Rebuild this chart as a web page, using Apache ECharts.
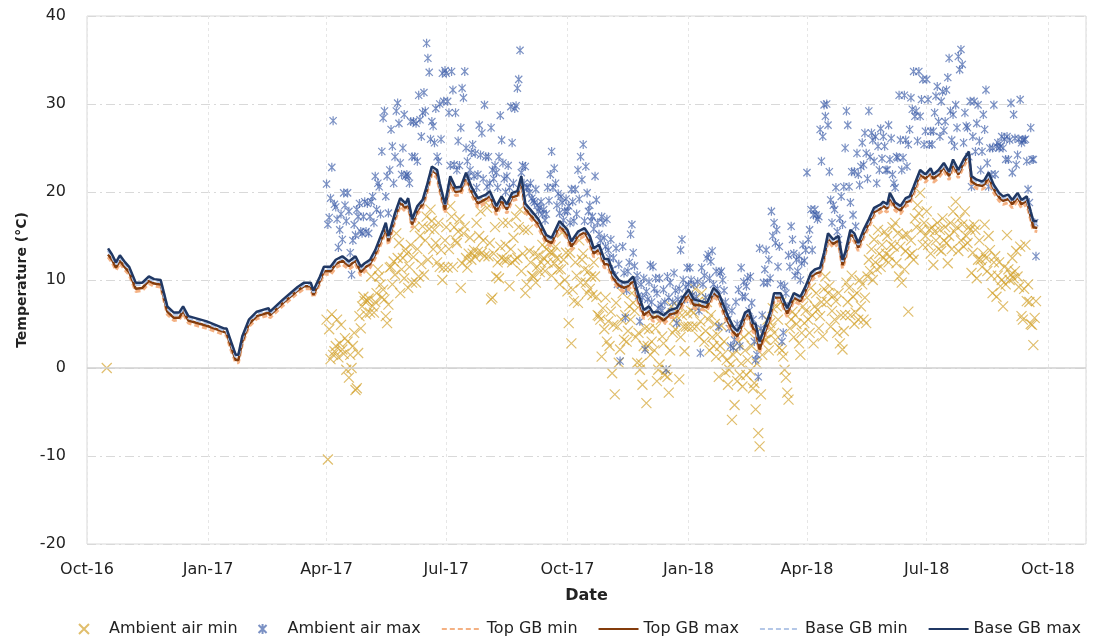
<!DOCTYPE html>
<html>
<head>
<meta charset="utf-8">
<script src="https://cdn.jsdelivr.net/npm/echarts@6/dist/echarts.min.js"></script>
<style>
html,body{margin:0;padding:0;background:#fff;}
#chart{width:1096px;height:641px;}
</style>
</head>
<body>
<div id="chart"></div>
<script>
// ---- DATA ----
// day offsets are counted from 2016-10-01
const seriesNames = ['Ambient air min', 'Ambient air max', 'Top GB min', 'Top GB max', 'Base GB min', 'Base GB max'];
const monthNames = ['Jan','Feb','Mar','Apr','May','Jun','Jul','Aug','Sep','Oct','Nov','Dec'];

// single early ambient reading
const earlyMinDays = [15];
const earlyMin = [0];

// daily ambient readings starting 2017-04-01 (day 182)
const airStartDay = 182;
const airMax = [
 20.9,16.3,17.1,19.3,22.8,28.1,18.6,18.3,16.9,13.7,15.7,17.5,14.6,19.9,18.5,16.7,19.9,17.8,13.1,10.6,14.5,16.3,15.1,18.0,17.2,18.7,15.5,15.3,17.2,18.9,
 15.5,18.7,15.3,17.2,18.9,19.5,16.5,21.8,18.0,21.0,20.6,17.5,24.6,28.4,29.2,19.5,21.8,17.6,22.5,27.1,25.2,21.0,24.0,29.2,30.1,27.8,23.3,22.0,25.0,28.8,21.8,
 22.0,21.8,21.0,28.0,24.0,28.0,24.0,27.8,23.5,31.0,28.2,26.3,29.0,31.3,29.2,36.9,35.2,33.6,26.0,28.0,27.5,25.6,29.5,24.0,23.5,30.0,26.0,33.5,30.3,33.8,
 33.5,30.3,29.0,23.0,33.7,31.6,23.1,29.0,22.5,25.8,23.0,27.3,31.8,30.7,33.7,25.0,23.5,21.8,22.5,24.5,25.4,21.8,24.4,20.5,22.0,27.6,24.2,26.7,21.5,29.9,24.0,
 20.6,24.0,21.0,27.3,22.5,21.5,23.0,22.2,20.5,24.0,28.7,25.9,23.3,21.5,20.0,21.8,23.0,20.5,29.7,25.6,21.0,29.5,29.8,31.8,32.8,36.1,22.2,23.0,21.0,22.9,20.5,
 20.5,19.9,21.0,19.3,19.0,18.8,20.3,18.5,17.8,18.2,18.9,17.5,18.0,16.8,17.5,20.5,19.0,22.0,24.6,20.5,22.7,21.0,18.5,19.8,17.6,19.5,18.8,16.8,17.8,19.2,
 17.8,18.4,16.5,20.3,18.9,16.7,20.3,17.5,22.5,19.2,24.0,21.4,25.4,16.7,22.9,19.9,17.8,18.5,16.7,17.2,15.8,21.8,19.1,16.5,15.2,14.5,17.2,16.5,14.8,13.8,16.9,
 13.4,12.5,14.6,11.2,12.5,10.5,13.6,9.5,11.8,0.8,9.5,13.8,10.8,5.7,8.8,11.0,12.0,15.2,16.3,13.1,11.6,9.8,10.5,8.2,5.3,9.5,8.0,10.2,2.1,8.7,
 7.8,9.8,11.7,7.5,11.5,9.0,10.2,8.5,6.8,10.2,7.2,6.5,8.9,7.5,-0.2,10.4,8.0,9.7,6.4,7.5,10.8,8.8,5.1,7.8,9.0,13.4,14.6,10.0,7.8,9.2,11.4,
 9.5,11.4,10.0,8.3,9.5,7.0,8.1,9.8,6.5,1.7,11.4,9.5,10.5,8.0,12.5,12.9,10.2,12.1,13.3,9.5,8.3,11.0,9.0,4.7,10.8,11.0,10.0,8.8,7.5,6.8,5.5,
 4.5,2.5,6.5,2.3,3.2,7.5,5.0,8.9,2.5,11.4,8.1,9.8,8.1,9.3,10.2,6.5,10.4,7.4,5.5,3.0,0.9,1.5,-1.0,13.6,4.5,6.0,9.7,11.2,
 13.4,9.7,12.3,10.2,17.8,15.0,16.5,14.2,15.7,11.5,13.8,9.5,3.0,4.0,9.3,8.5,7.0,12.8,11.5,16.1,14.6,13.0,10.5,12.3,11.0,12.7,10.0,11.9,14.0,12.2,13.4,
 22.2,14.6,15.7,18.0,13.4,17.4,18.0,17.4,16.9,17.2,27.1,23.5,26.3,29.9,28.6,30.0,27.6,22.3,19.1,16.5,18.5,18.0,20.5,15.5,14.6,17.0,19.5,16.3,20.6,25.0,
 29.2,27.6,20.6,18.8,22.3,17.4,22.3,16.1,24.4,22.0,20.8,22.9,25.6,23.1,26.7,24.4,21.5,29.2,24.0,26.7,25.9,23.5,26.3,21.0,25.2,22.5,27.2,23.8,26.3,25.2,22.5,
 22.5,27.6,23.7,26.1,22.0,21.0,20.5,24.0,23.9,31.0,25.9,22.5,23.9,31.0,25.9,22.9,25.4,27.1,30.7,29.4,33.7,28.6,29.2,25.8,33.7,28.6,30.5,32.8,25.4,26.9,
 32.8,30.5,25.4,26.9,25.4,26.9,29.0,30.9,32.0,28.0,26.3,30.3,31.4,27.0,28.0,31.6,33.0,35.2,29.2,25.9,28.8,25.2,29.9,27.3,35.4,33.9,36.2,34.5,25.6,29.0,27.5,
 27.3,24.0,30.3,20.6,26.3,30.3,24.6,27.8,29.9,25.8,22.5,24.6,28.8,27.1,31.6,23.3,20.6,25.0,22.0,25.0,29.9,22.0,25.2,25.6,25.0,25.2,26.3,25.0,26.0,23.7,26.3,
 23.7,25.9,30.1,22.2,28.8,26.1,23.1,24.2,26.0,30.5,25.6,25.9,25.9,26.0,23.5,20.3,18.8,27.3,23.7,23.7,16.5,12.7
];
const airMin = [
 5.5,-10.4,4.4,1.0,6.1,1.5,1.9,2.5,5.5,1.2,2.8,4.9,2.1,1.6,3.4,-0.2,3.0,-1.1,1.5,0.0,2.5,4.0,-2.5,-2.3,1.7,5.9,4.5,7.0,8.1,7.6,
 6.1,7.6,7.9,6.3,10.4,7.0,6.3,7.5,8.5,11.2,10.4,9.5,8.0,8.9,7.8,5.9,5.1,7.2,11.4,11.5,9.5,12.1,10.6,15.3,12.5,14.2,8.5,11.2,12.5,10.2,13.5,
 13.0,9.1,11.5,14.0,9.7,12.6,16.0,9.7,13.5,10.4,15.0,11.8,16.1,10.6,14.5,17.2,12.3,15.8,18.0,16.7,13.5,15.7,14.2,12.0,16.5,11.5,13.4,10.0,11.4,14.5,
 16.0,11.4,13.5,18.4,17.2,11.5,16.0,14.5,14.2,15.5,16.9,9.1,11.9,15.3,16.1,12.5,11.4,13.0,14.8,12.3,13.0,13.4,12.6,16.5,13.2,15.0,17.8,13.1,14.5,12.7,18.8,
 18.2,12.7,14.2,7.8,8.0,13.0,16.0,10.4,12.0,10.2,13.8,12.5,16.5,12.3,14.0,12.3,16.5,9.3,13.5,12.0,14.8,12.3,17.2,12.5,16.0,18.0,11.0,13.0,15.7,8.5,9.5,
 15.7,13.3,12.0,10.5,10.4,13.0,9.7,11.5,12.8,10.9,12.0,14.0,12.5,11.0,13.5,12.0,14.2,13.1,10.5,13.1,11.9,13.8,12.5,11.2,9.5,11.2,15.4,12.3,10.0,13.1,
 8.7,5.1,13.1,2.8,8.9,7.6,12.0,10.5,7.4,14.5,9.7,12.3,13.0,11.2,9.7,8.5,11.0,9.0,10.4,8.3,12.0,10.4,8.1,6.0,5.9,5.5,1.3,6.8,4.4,8.0,3.0,
 5.3,2.5,6.4,-0.6,4.9,-3.0,7.4,4.7,0.6,2.1,5.5,8.5,3.2,6.0,3.0,4.2,7.0,5.5,8.5,7.4,6.5,3.5,0.6,4.0,-0.2,0.5,-1.9,2.5,4.5,-4.0,
 2.5,4.4,1.5,3.0,6.0,2.0,4.5,-1.5,-0.2,0.4,5.5,3.6,2.8,-0.8,-0.2,-1.0,-2.8,2.0,7.0,4.0,5.5,4.4,5.9,7.0,-1.3,3.5,6.0,4.7,1.9,4.7,6.2,
 4.7,8.0,6.5,4.7,6.3,9.0,4.7,7.5,3.5,5.3,8.5,6.8,3.0,4.2,7.5,5.5,2.0,6.0,3.5,2.5,5.0,1.3,3.8,-1.0,2.5,4.8,1.5,3.0,-0.5,0.9,-1.9,
 -0.2,0.4,-5.9,1.5,-4.2,2.0,-1.5,3.0,-0.8,0.5,-2.1,3.5,2.0,-0.8,0.9,4.0,-0.3,2.5,-2.3,-1.7,-4.7,0.5,-7.4,-8.9,-3.0,1.5,4.0,3.2,
 3.2,5.5,2.0,5.1,4.5,6.8,4.0,3.2,7.0,5.5,2.3,7.4,2.0,1.3,-0.2,-1.1,-2.8,-3.6,4.5,5.5,6.4,3.5,6.0,5.0,8.0,2.8,1.5,4.0,7.0,5.1,6.5,
 8.0,5.5,4.0,9.1,6.0,2.8,7.0,8.5,6.6,4.5,5.9,7.5,3.6,9.0,10.4,7.5,8.5,9.3,4.7,6.5,8.2,5.5,7.6,4.0,8.5,2.8,6.0,2.1,4.2,6.0,
 9.7,7.5,9.1,6.0,10.5,8.1,5.0,6.3,8.5,5.5,10.0,7.0,9.5,5.5,8.0,5.1,10.4,12.3,11.0,13.5,10.0,14.6,12.0,11.2,15.7,13.0,11.5,14.0,12.5,15.5,13.0,
 15.0,12.0,12.7,14.0,16.0,13.8,16.5,11.9,15.3,10.4,13.8,9.7,15.0,11.2,13.3,15.2,6.4,12.8,14.5,13.0,12.3,17.0,16.0,18.5,17.6,19.9,15.7,14.0,16.5,15.0,
 17.8,14.0,15.7,13.0,16.0,11.7,15.5,14.5,16.5,13.5,15.7,13.3,17.0,14.5,16.0,14.2,11.9,15.0,16.5,13.5,17.8,15.5,18.9,16.0,13.3,17.0,14.5,16.3,13.8,17.8,15.0,
 14.2,16.0,15.7,10.8,13.1,16.3,15.7,10.2,12.3,14.5,12.3,11.5,13.0,16.3,12.5,11.0,15.0,13.4,10.5,8.5,12.0,12.7,8.1,10.5,12.0,9.3,10.0,7.0,11.5,9.5,15.1,
 11.2,10.0,10.6,12.5,10.2,11.0,13.3,10.4,9.2,13.8,5.9,5.5,9.0,14.0,7.6,9.5,7.5,5.0,4.9,2.6,5.7,7.6
];

// gearbox temperature lines (sampled days)
const lineDays = [
 16,19,22,25,29,32,37,42,47,51, 56,61,66,70,73,77,91,104,106,109,
 113,115,118,123,129,138,139,149,160,165, 170,172,177,180,185,189,194,199,204,208,
 211,215,219,225,227,229,234,238,242,244, 247,251,255,258,262,266,268,272,276,280,
 284,288,292,297,303,306,311,315,319,323, 327,330,333,338,343,349,353,359,365,368,
 373,378,382,385,389,393,396,400,404,408, 411,415,419,423,427,430,434,438,443,448,
 453,457,461,466,471,476,480,484,487,491, 494,496,500,503,506,508,511,515,519,522,
 527,532,537,542,546,550,553,557,560,563, 567,571,574,576,580,583,586,590,594,598,
 603,605,608,610,614,618,622,625,628,633, 637,641,643,647,651,655,658,662,666,670,
 672,676,680,682,685,689,693,696,700,703, 707,710,714,717,719,722
];
const baseMax = [
 13.6,12.9,12.0,12.8,12.0,11.5,9.7,9.7,10.4,10.1, 10.0,7.0,6.3,6.3,7.0,5.9,5.3,4.5,4.5,3.2,
 1.5,1.5,3.6,5.5,6.4,6.8,6.4,7.8,9.2,9.7, 9.7,8.8,10.4,11.5,11.5,12.3,12.7,12.1,12.7,11.5,
 11.9,12.3,13.4,15.7,16.5,15.0,17.6,19.3,18.7,19.3, 16.9,18.4,19.1,20.6,22.9,22.5,21.0,18.6,21.8,20.5,
 20.6,22.2,20.6,19.3,19.7,20.1,18.4,19.5,18.6,19.9, 20.1,21.8,18.7,17.8,16.9,15.1,14.8,16.7,15.7,14.4,
 15.5,15.9,15.0,13.6,14.0,12.4,12.4,10.8,10.0,9.7, 9.8,10.4,8.3,6.6,7.0,6.3,6.4,6.0,6.6,6.8,
 8.1,8.9,7.8,7.6,7.4,9.1,8.5,7.0,5.9,4.7, 4.2,4.7,6.3,6.6,5.1,5.0,3.0,4.7,6.3,8.5,
 8.5,6.8,8.5,8.1,9.3,10.8,11.2,11.4,13.1,15.3, 14.6,15.0,12.3,13.1,15.7,15.3,14.2,15.7,16.9,18.2,
 18.6,18.9,18.6,19.9,18.8,18.4,19.3,19.5,20.6,22.5, 22.0,22.7,22.0,22.5,23.3,22.3,23.7,22.5,23.7,24.6,
 21.8,21.4,21.2,21.4,22.2,20.8,19.9,19.5,19.7,19.1, 19.9,19.1,19.5,17.8,16.7,16.7
];
const baseMin = [
 13.4,12.7,11.8,12.6,11.8,11.3,9.5,9.5,10.2,9.9, 9.8,6.8,6.1,6.1,6.8,5.7,5.1,4.3,4.3,3.0,
 1.3,1.3,3.4,5.3,6.2,6.6,6.2,7.6,9.0,9.5, 9.5,8.6,10.2,11.3,11.3,12.1,12.5,11.9,12.5,11.3,
 11.7,12.1,13.2,15.5,16.3,14.8,17.4,19.1,18.5,19.1, 16.7,18.2,18.9,20.4,22.7,22.3,20.8,18.4,21.6,20.3,
 20.4,22.0,20.4,19.1,19.5,19.9,18.2,19.3,18.4,19.7, 19.9,21.6,18.5,17.6,16.7,14.9,14.6,16.5,15.5,14.2,
 15.3,15.7,14.8,13.4,13.8,12.2,12.2,10.6,9.8,9.5, 9.6,10.2,8.1,6.4,6.8,6.1,6.2,5.8,6.4,6.6,
 7.9,8.7,7.6,7.4,7.2,8.9,8.3,6.8,5.7,4.5, 4.0,4.5,6.1,6.4,4.9,4.8,2.8,4.5,6.1,8.3,
 8.3,6.6,8.3,7.9,9.1,10.6,11.0,11.2,12.9,15.1, 14.4,14.8,12.1,12.9,15.5,15.1,14.0,15.5,16.7,18.0,
 18.4,18.7,18.4,19.7,18.6,18.2,19.1,19.3,20.4,22.3, 21.8,22.5,21.8,22.3,23.1,22.1,23.5,22.3,23.5,24.4,
 21.6,21.2,21.0,21.2,22.0,20.6,19.7,19.3,19.5,18.9, 19.7,18.9,19.3,17.6,16.5,16.5
];
const topMax = [
 12.9,12.3,11.4,12.2,11.4,10.9,9.0,9.1,9.9,9.6, 9.5,6.4,5.7,5.7,6.5,5.4,4.8,4.1,4.0,2.6,
 0.9,0.9,3.0,5.0,5.9,6.3,6.0,7.4,8.8,9.3, 9.3,8.3,9.9,11.0,11.0,11.8,12.2,11.6,12.2,10.9,
 11.4,11.8,12.9,15.1,15.9,14.4,17.1,18.8,18.2,18.8, 16.3,17.9,18.6,20.1,22.5,22.0,20.5,18.0,21.3,20.0,
 20.1,21.8,20.1,18.7,19.2,19.6,17.8,19.0,18.0,19.4, 19.6,21.3,18.1,17.2,16.3,14.5,14.2,16.2,15.1,13.8,
 15.0,15.4,14.4,13.0,13.5,11.8,11.8,10.2,9.4,9.1, 9.3,9.9,7.7,6.0,6.5,5.7,5.9,5.4,6.1,6.3,
 7.6,8.4,7.2,7.1,6.9,8.6,8.0,6.4,5.3,4.1, 3.6,4.2,5.8,6.1,4.5,4.3,2.1,4.0,5.8,8.0,
 8.0,6.2,8.0,7.6,8.8,10.3,10.7,10.9,12.6,14.8, 14.1,14.5,11.7,12.6,15.2,14.8,13.7,15.2,16.4,17.7,
 18.1,18.4,18.1,19.4,18.3,17.9,18.8,19.0,20.1,22.0, 21.5,22.2,21.5,22.0,22.8,21.8,23.2,22.0,23.3,24.3,
 21.2,20.8,20.7,20.9,21.7,20.3,19.4,19.0,19.2,18.6, 19.4,18.6,19.0,17.2,16.0,15.9
];
const topMin = [
 12.6,12.0,11.1,11.9,11.1,10.6,8.7,8.8,9.6,9.3, 9.2,6.1,5.4,5.5,6.2,5.1,4.5,3.8,3.7,2.2,
 0.6,0.6,2.7,4.7,5.6,6.0,5.7,7.1,8.5,9.0, 9.0,8.0,9.6,10.7,10.6,11.4,11.8,11.2,11.8,10.5,
 11.0,11.4,12.5,14.7,15.5,14.0,16.7,18.4,17.8,18.4, 15.9,17.5,18.2,19.7,22.1,21.6,20.1,17.6,20.9,19.6,
 19.7,21.4,19.7,18.3,18.8,19.2,17.4,18.6,17.6,19.0, 19.2,20.9,17.7,16.8,15.9,14.1,13.8,15.8,14.7,13.4,
 14.6,15.0,14.0,12.6,13.1,11.4,11.4,9.8,9.0,8.7, 8.9,9.5,7.3,5.6,6.1,5.3,5.5,5.0,5.7,5.9,
 7.2,8.0,6.8,6.7,6.5,8.2,7.6,6.0,4.9,3.7, 3.2,3.8,5.4,5.7,4.1,3.9,1.8,3.6,5.4,7.6,
 7.6,5.8,7.6,7.2,8.4,9.9,10.3,10.5,12.2,14.4, 13.7,14.1,11.3,12.2,14.8,14.4,13.3,14.8,16.0,17.3,
 17.7,18.0,17.7,19.0,17.9,17.5,18.4,18.6,19.7,21.6, 21.1,21.8,21.1,21.6,22.4,21.4,22.8,21.6,22.9,23.9,
 20.8,20.4,20.3,20.5,21.3,19.9,19.0,18.6,18.8,18.2, 19.0,18.2,18.6,16.8,15.6,15.5
];

// ---- BUILD ----
const DAY = 86400000;
const EPOCH = Date.UTC(2016, 9, 1);
const toTime = d => EPOCH + d * DAY;
const lineData = arr => lineDays.map((d, i) => [toTime(d), arr[i]]);
const airData = arr => arr.map((v, i) => [toTime(airStartDay + i), v]);
const minData = earlyMinDays.map((d, i) => [toTime(d), earlyMin[i]]).concat(airData(airMin));
const maxData = airData(airMax);

const CROSS = 'path://M0,0L10,10M10,0L0,10';
const STAR = 'path://M1,1L9,9M9,1L1,9M5,0L5,10';
const FONT = 'DejaVu Sans';

const chart = echarts.init(document.getElementById('chart'), null, {renderer: 'canvas'});
const legendData = seriesNames.map((n, i) => i < 2 ? {name: n} : {name: n, itemStyle: {opacity: 0}});
const option = {
  animation: false,
  useUTC: true,
  backgroundColor: '#ffffff',
  textStyle: {fontFamily: FONT},
  grid: {left: 87, right: 10, top: 16, bottom: 97, show: true, borderColor: '#d9d9d9', borderWidth: 1, containLabel: false},
  legend: {
    left: 78, top: 621, padding: 0,
    itemWidth: 40, itemHeight: 10, itemGap: 20,
    textStyle: {fontSize: 16, color: '#222', fontFamily: FONT},
    data: legendData
  },
  xAxis: {
    type: 'time',
    min: toTime(0), max: toTime(759),
    minInterval: 92 * DAY, maxInterval: 92 * DAY,
    name: 'Date', nameLocation: 'middle', nameGap: 44,
    nameTextStyle: {fontSize: 16, fontWeight: 'bold', color: '#222', fontFamily: FONT},
    axisLine: {show: false}, axisTick: {show: false},
    axisLabel: {
      fontSize: 16, color: '#222', margin: 18, fontFamily: FONT,
      showMaxLabel: false,
      formatter: v => { const d = new Date(v); return monthNames[d.getUTCMonth()] + '-' + String(d.getUTCFullYear()).slice(2); }
    },
    splitLine: {show: true, lineStyle: {color: '#e6e6e6', type: [3, 3], width: 1}}
  },
  yAxis: {
    type: 'value', min: -20, max: 40, interval: 10,
    name: 'Temperature (°C)', nameLocation: 'middle', nameGap: 58, nameRotate: 90,
    nameTextStyle: {fontSize: 14, fontWeight: 'bold', color: '#222', fontFamily: FONT},
    axisLine: {show: false}, axisTick: {show: false},
    axisLabel: {fontSize: 16, color: '#222', margin: 21, fontFamily: FONT},
    splitLine: {show: true, lineStyle: {color: '#d9d9d9', type: [9, 4, 2, 4], width: 1}}
  },
  series: [
    {
      name: seriesNames[0], type: 'scatter', data: minData,
      symbol: CROSS, symbolSize: 10, symbolKeepAspect: true,
      itemStyle: {color: 'rgba(0,0,0,0)', borderColor: 'rgba(210,160,40,0.85)', borderWidth: 1.2},
      markLine: {
        silent: true, symbol: 'none', label: {show: false},
        lineStyle: {color: '#d0d0d0', type: 'solid', width: 1.5},
        data: [{yAxis: 0}]
      }
    },
    {
      name: seriesNames[1], type: 'scatter', data: maxData,
      symbol: STAR, symbolSize: 9, symbolKeepAspect: true,
      itemStyle: {color: 'rgba(0,0,0,0)', borderColor: 'rgba(62,94,168,0.85)', borderWidth: 1.2}
    },
    {
      name: seriesNames[2], type: 'line', data: lineData(topMin), symbol: 'none',
      lineStyle: {color: '#F4B183', width: 3, type: [5, 3]}, itemStyle: {color: '#F4B183'}
    },
    {
      name: seriesNames[3], type: 'line', data: lineData(topMax), symbol: 'none',
      lineStyle: {color: '#843C0C', width: 2.5}, itemStyle: {color: '#843C0C'}
    },
    {
      name: seriesNames[4], type: 'line', data: lineData(baseMin), symbol: 'none',
      lineStyle: {color: '#B4C7E7', width: 3, type: [5, 3]}, itemStyle: {color: '#B4C7E7'}
    },
    {
      name: seriesNames[5], type: 'line', data: lineData(baseMax), symbol: 'none',
      lineStyle: {color: '#203864', width: 2.5}, itemStyle: {color: '#203864'}
    }
  ]
};
chart.setOption(option);
</script>
</body>
</html>
